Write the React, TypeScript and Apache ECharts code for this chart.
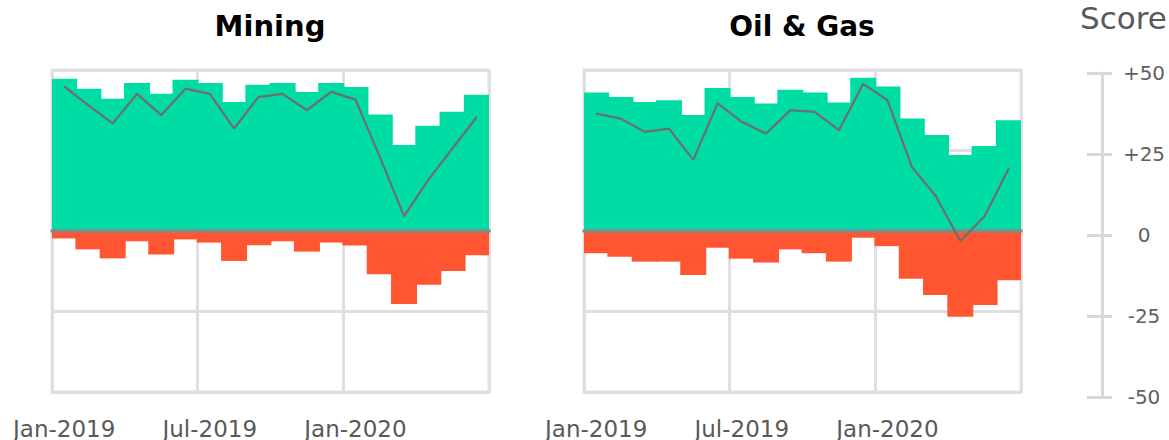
import React, { useEffect, useRef } from "react";
import * as echarts from "echarts";

const months = [
  "Jan-2019", "Feb-2019", "Mar-2019", "Apr-2019", "May-2019", "Jun-2019",
  "Jul-2019", "Aug-2019", "Sep-2019", "Oct-2019", "Nov-2019", "Dec-2019",
  "Jan-2020", "Feb-2020", "Mar-2020", "Apr-2020", "May-2020", "Jun-2020",
];

const miningPositive = [47.3, 44.2, 41.1, 46.0, 42.6, 47.0, 46.0, 40.1, 45.4, 46.0, 43.2, 46.0, 44.7, 36.2, 26.7, 32.7, 37.0, 42.3];
const miningNegative = [-2.3, -5.7, -8.5, -3.2, -7.3, -2.6, -3.6, -9.3, -4.4, -3.2, -6.4, -3.6, -4.5, -13.4, -22.7, -16.7, -12.4, -7.5];
const miningNet = [44.9, 39.0, 33.4, 42.6, 36.0, 44.2, 42.6, 31.8, 41.6, 42.6, 37.5, 43.2, 40.8, 23.1, 4.6, 15.9, 25.7, 35.4];

const oilPositive = [43.0, 41.6, 40.1, 40.6, 36.0, 44.4, 41.6, 39.6, 43.9, 43.0, 39.9, 47.6, 44.9, 34.9, 29.8, 23.6, 26.4, 34.4];
const oilNegative = [-6.9, -8.0, -9.5, -9.5, -13.7, -5.2, -8.6, -9.8, -5.7, -6.9, -9.5, -2.1, -4.7, -14.8, -19.9, -26.6, -23.0, -15.3];
const oilNet = [36.5, 34.9, 30.8, 31.8, 22.1, 39.6, 33.9, 30.3, 37.5, 37.0, 31.3, 45.7, 40.6, 20.0, 10.7, -3.1, 4.6, 19.5];

const panelTitles = ["Mining", "Oil & Gas"];
const scoreTickLabels: Record<string, string> = { "-50": "-50", "-25": "-25", "0": "0", "25": "+25", "50": "+50" };

const GREEN = "#00DDA4";
const RED = "#FF5631";
const GRID = "#E1DEE1";
const FONT = "DejaVu Sans";

export default function App() {
  const ref = useRef<HTMLDivElement>(null);

  useEffect(() => {
    if (!ref.current) return;
    const chart = echarts.init(ref.current, null, { renderer: "svg" });

    const panels = [
      { left: 52, pos: miningPositive, neg: miningNegative, net: miningNet },
      { left: 584, pos: oilPositive, neg: oilNegative, net: oilNet },
    ];

    const grids: any[] = panels.map((p) => ({
      left: p.left,
      width: 437,
      top: 70,
      height: 324,
      show: true,
      borderColor: GRID,
      borderWidth: 3,
    }));
    grids.push({ left: 1102, width: 1, top: 73, height: 324 });

    const xAxes: any[] = panels.map((_, i) => ({
      type: "category",
      gridIndex: i,
      data: months,
      boundaryGap: true,
      axisLine: { show: false, onZero: false },
      axisTick: { show: false },
      axisLabel: {
        interval: 5,
        margin: 25,
        fontFamily: FONT,
        fontSize: 23,
        color: "#595959",
      },
      splitLine: {
        show: true,
        interval: (idx: number) => idx % 6 === 0,
        lineStyle: { color: GRID, width: 3 },
      },
    }));
    xAxes.push({ type: "category", gridIndex: 2, data: ["a"], show: false });
    // zero lines (axis lines on zero, drawn above the bars)
    panels.forEach((_, i) => {
      xAxes.push({
        type: "category",
        gridIndex: i,
        data: months,
        boundaryGap: true,
        z: 10,
        axisLine: { show: true, onZero: true, lineStyle: { color: "#878787", width: 3.5 } },
        axisTick: { show: false },
        axisLabel: { show: false },
        splitLine: { show: false },
      });
    });

    const yAxes: any[] = panels.map((_, i) => ({
      type: "value",
      gridIndex: i,
      min: -50,
      max: 50,
      interval: 25,
      axisLine: { show: false },
      axisTick: { show: false },
      axisLabel: { show: false },
      splitLine: { show: true, lineStyle: { color: GRID, width: 3 } },
    }));
    yAxes.push({
      type: "value",
      gridIndex: 2,
      position: "left",
      min: -50,
      max: 50,
      interval: 25,
      axisLine: { show: true, lineStyle: { color: "#D6D9DC", width: 3 } },
      axisTick: { show: true, length: 15, lineStyle: { color: "#D6D9DC", width: 3 } },
      axisLabel: { show: false },
      splitLine: { show: false },
    });
    yAxes.push({
      type: "value",
      gridIndex: 2,
      position: "right",
      min: -50,
      max: 50,
      interval: 25,
      axisLine: { show: false },
      axisTick: { show: true, length: 9, lineStyle: { color: "#D6D9DC", width: 3 } },
      axisLabel: {
        show: true,
        align: "center",
        margin: 41,
        fontFamily: FONT,
        fontSize: 20,
        color: "#5f5f5f",
        formatter: (v: number) => scoreTickLabels[String(v)] ?? String(v),
      },
      splitLine: { show: false },
    });

    const series: any[] = [];
    panels.forEach((p, i) => {
      series.push({
        type: "bar",
        xAxisIndex: i,
        yAxisIndex: i,
        data: p.pos,
        barWidth: 26,
        barGap: "-100%",
        itemStyle: { color: GREEN },
        z: 2,
      });
      series.push({
        type: "bar",
        xAxisIndex: i,
        yAxisIndex: i,
        data: p.neg,
        barWidth: 26,
        barGap: "-100%",
        itemStyle: { color: RED },
        z: 2,
      });
      series.push({
        type: "line",
        xAxisIndex: i,
        yAxisIndex: i,
        data: p.net,
        symbol: "none",
        lineStyle: { color: "#6e6e6e", width: 2.2 },
        z: 12,
      });
    });

    chart.setOption({
      animation: false,
      backgroundColor: "#ffffff",
      grid: grids,
      xAxis: xAxes,
      yAxis: yAxes,
      series,
      graphic: [
        {
          type: "text",
          x: 270,
          y: 26,
          style: {
            text: panelTitles[0],
            align: "center",
            verticalAlign: "middle",
            fontFamily: FONT,
            fontWeight: "bold",
            fontSize: 29,
            fill: "#000000",
          },
        },
        {
          type: "text",
          x: 802,
          y: 26,
          style: {
            text: panelTitles[1],
            align: "center",
            verticalAlign: "middle",
            fontFamily: FONT,
            fontWeight: "bold",
            fontSize: 28,
            fill: "#000000",
          },
        },
        {
          type: "text",
          x: 1080,
          y: 18,
          style: {
            text: "Score",
            align: "left",
            verticalAlign: "middle",
            fontFamily: FONT,
            fontSize: 31,
            fill: "#595959",
          },
        },
      ],
    });

    return () => chart.dispose();
  }, []);

  return (
    <div
      ref={ref}
      style={{ position: "fixed", left: 0, top: 0, width: 1169, height: 440, background: "#fff" }}
    />
  );
}
